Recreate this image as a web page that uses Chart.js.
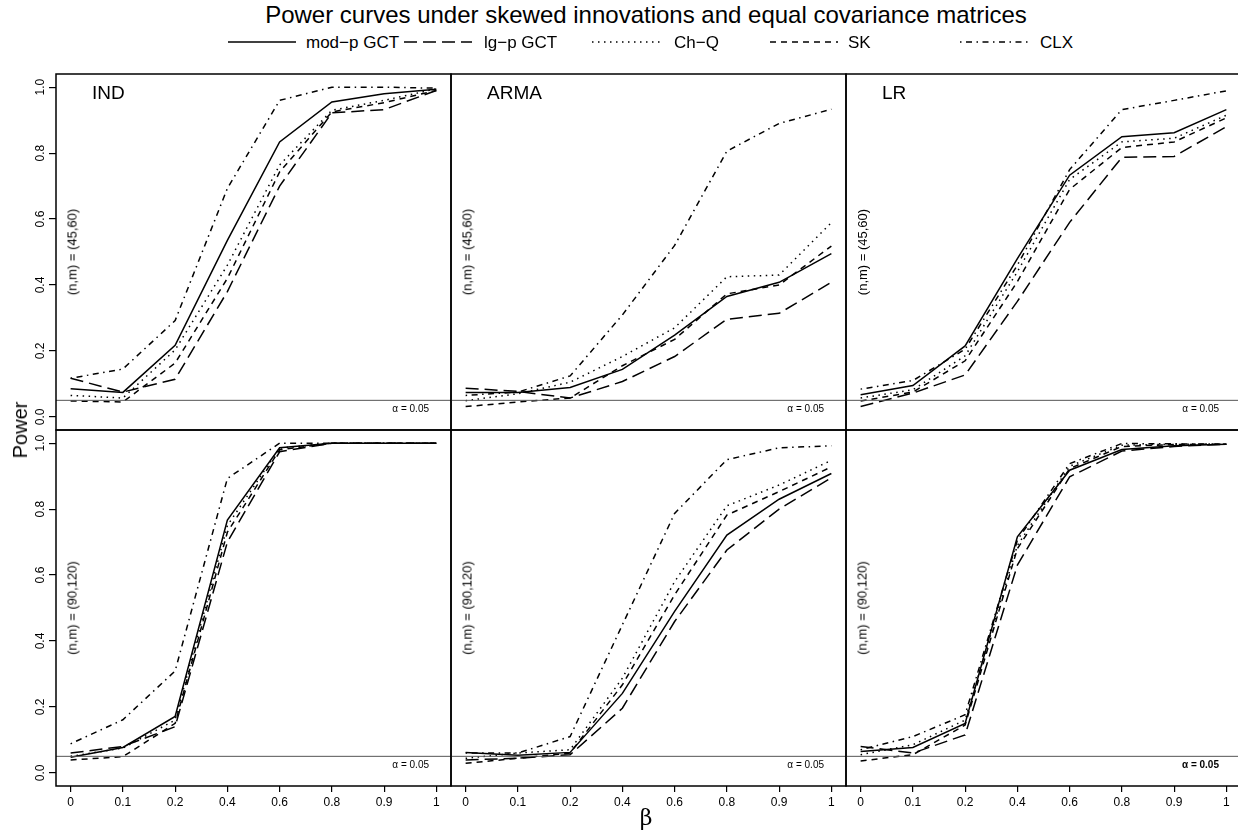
<!DOCTYPE html>
<html>
<head>
<meta charset="utf-8">
<title>Power curves</title>
<script src="https://cdn.jsdelivr.net/npm/chart.js@4.4.1/dist/chart.umd.min.js"></script>
<style>
html, body { margin: 0; padding: 0; background: #fff; overflow: hidden; }
#page { position: relative; width: 1238px; height: 832px; overflow: hidden;
        font-family: "Liberation Sans", Arial, Helvetica, sans-serif; color: #000; }
#page canvas { position: absolute; }
.txt { position: absolute; white-space: nowrap; line-height: 1; }
.mid { transform: translate(-50%, -50%); }
.vmid { transform: translate(0, -50%); }
.rmid { transform: translate(-100%, -50%); }
.rot { transform: translate(-50%, -50%) rotate(-90deg); }
</style>
</head>
<body>
<div id="page"></div>
<script>
// x categories and y ticks
const betaLabels = ['0', '0.1', '0.2', '0.4', '0.6', '0.8', '0.9', '1'];
const powerTicks = [0, 0.2, 0.4, 0.6, 0.8, 1];
const seriesNames = ['mod−p GCT', 'lg−p GCT', 'Ch−Q', 'SK', 'CLX'];
const modelNames = ['IND', 'ARMA', 'LR'];
const sampleSizes = ['(45,60)', '(90,120)'];
const alphaLevel = 0.05;

// (n,m) = (45,60)
const indSmallModp = [0.085, 0.074, 0.217, 0.535, 0.834, 0.955, 0.980, 0.994];
const indSmallLgp  = [0.117, 0.075, 0.114, 0.380, 0.700, 0.922, 0.932, 0.990];
const indSmallChq  = [0.065, 0.057, 0.203, 0.460, 0.764, 0.930, 0.960, 0.995];
const indSmallSk   = [0.048, 0.045, 0.163, 0.420, 0.743, 0.925, 0.953, 0.990];
const indSmallClx  = [0.117, 0.145, 0.292, 0.693, 0.960, 1.000, 1.000, 0.997];

const armaSmallModp = [0.074, 0.074, 0.089, 0.144, 0.248, 0.365, 0.408, 0.495];
const armaSmallLgp  = [0.087, 0.077, 0.057, 0.107, 0.183, 0.296, 0.314, 0.408];
const armaSmallChq  = [0.049, 0.070, 0.105, 0.183, 0.270, 0.425, 0.430, 0.589];
const armaSmallSk   = [0.031, 0.045, 0.057, 0.155, 0.235, 0.373, 0.400, 0.518];
const armaSmallClx  = [0.065, 0.075, 0.124, 0.309, 0.520, 0.806, 0.890, 0.933];

const lrSmallModp = [0.067, 0.095, 0.215, 0.480, 0.733, 0.850, 0.862, 0.932];
const lrSmallLgp  = [0.031, 0.072, 0.127, 0.350, 0.590, 0.787, 0.790, 0.880];
const lrSmallChq  = [0.057, 0.082, 0.185, 0.440, 0.720, 0.834, 0.845, 0.915];
const lrSmallSk   = [0.048, 0.075, 0.170, 0.410, 0.690, 0.817, 0.834, 0.907];
const lrSmallClx  = [0.084, 0.110, 0.205, 0.460, 0.750, 0.932, 0.960, 0.989];

// (n,m) = (90,120)
const indLargeModp = [0.047, 0.077, 0.171, 0.767, 0.986, 1.000, 1.000, 1.000];
const indLargeLgp  = [0.060, 0.080, 0.140, 0.700, 0.974, 1.000, 1.000, 1.000];
const indLargeChq  = [0.050, 0.075, 0.160, 0.750, 0.985, 1.000, 1.000, 1.000];
const indLargeSk   = [0.039, 0.049, 0.150, 0.730, 0.980, 1.000, 1.000, 1.000];
const indLargeClx  = [0.088, 0.161, 0.309, 0.893, 1.000, 1.000, 1.000, 1.000];

const armaLargeModp = [0.062, 0.053, 0.062, 0.241, 0.490, 0.721, 0.830, 0.908];
const armaLargeLgp  = [0.039, 0.044, 0.055, 0.196, 0.459, 0.676, 0.800, 0.895];
const armaLargeChq  = [0.044, 0.060, 0.070, 0.287, 0.580, 0.810, 0.873, 0.948];
const armaLargeSk   = [0.029, 0.044, 0.060, 0.267, 0.540, 0.782, 0.853, 0.928];
const armaLargeClx  = [0.060, 0.060, 0.110, 0.449, 0.787, 0.950, 0.986, 0.992];

const lrLargeModp = [0.065, 0.077, 0.150, 0.716, 0.918, 0.981, 0.992, 0.997];
const lrLargeLgp  = [0.080, 0.060, 0.115, 0.630, 0.898, 0.976, 0.990, 0.997];
const lrLargeChq  = [0.055, 0.085, 0.160, 0.690, 0.930, 0.994, 0.997, 0.997];
const lrLargeSk   = [0.036, 0.055, 0.145, 0.680, 0.923, 0.990, 0.996, 0.997];
const lrLargeClx  = [0.070, 0.110, 0.176, 0.706, 0.938, 0.999, 0.998, 0.997];

const panels = [
    [
        [indSmallModp, indSmallLgp, indSmallChq, indSmallSk, indSmallClx],
        [armaSmallModp, armaSmallLgp, armaSmallChq, armaSmallSk, armaSmallClx],
        [lrSmallModp, lrSmallLgp, lrSmallChq, lrSmallSk, lrSmallClx]
    ],
    [
        [indLargeModp, indLargeLgp, indLargeChq, indLargeSk, indLargeClx],
        [armaLargeModp, armaLargeLgp, armaLargeChq, armaLargeSk, armaLargeClx],
        [lrLargeModp, lrLargeLgp, lrLargeChq, lrLargeSk, lrLargeClx]
    ]
];

// styles / layout
const lineDashes = [[], [13, 6], [1.5, 4.5], [6, 5], [1.5, 4.5, 6, 4.5]];
const FONT = '"Liberation Sans", Arial, Helvetica, sans-serif';
const colX = [56, 451, 846, 1241];
const rowY = [74, 430, 786];
const PAD = 4;
const page = document.getElementById('page');

const panelDecor = {
    id: 'panelDecor',
    afterDatasetsDraw(chart) {
        const { ctx, chartArea: a } = chart;
        const y = chart.scales.y;
        ctx.save();
        // alpha reference line
        const ya = y.getPixelForValue(alphaLevel);
        ctx.strokeStyle = '#555';
        ctx.lineWidth = 1;
        ctx.beginPath();
        ctx.moveTo(a.left, ya);
        ctx.lineTo(a.right, ya);
        ctx.stroke();
        // box
        ctx.strokeStyle = '#000';
        ctx.lineWidth = 1.5;
        ctx.strokeRect(a.left, a.top, a.right - a.left, a.bottom - a.top);
        // rotated y tick labels (R style)
        if (y.options.display) {
            ctx.fillStyle = '#000';
            ctx.font = '12px ' + FONT;
            ctx.textAlign = 'center';
            ctx.textBaseline = 'middle';
            y.ticks.forEach(t => {
                ctx.save();
                ctx.translate(a.left - 15, y.getPixelForValue(t.value));
                ctx.rotate(-Math.PI / 2);
                ctx.fillText(t.value.toFixed(1), 0, 0);
                ctx.restore();
            });
        }
        ctx.restore();
    }
};

function addText(text, x, y, cls, css) {
    const d = document.createElement('div');
    d.className = 'txt ' + cls;
    d.textContent = text;
    d.style.left = x + 'px';
    d.style.top = y + 'px';
    Object.assign(d.style, css || {});
    page.appendChild(d);
    return d;
}

function makePanel(row, col, series) {
    const showY = col === 0;
    const showX = row === 1;
    const left = showY ? 0 : colX[col] - PAD;
    const top = rowY[row] - PAD;
    const right = colX[col + 1] + PAD;
    const bottom = showX ? 832 : rowY[row + 1] + PAD;

    const canvas = document.createElement('canvas');
    canvas.width = right - left;
    canvas.height = bottom - top;
    canvas.style.left = left + 'px';
    canvas.style.top = top + 'px';
    page.appendChild(canvas);

    return new Chart(canvas, {
        type: 'line',
        data: {
            datasets: series.map((vals, i) => ({
                label: seriesNames[i],
                data: vals.map((v, k) => ({ x: k, y: v })),
                borderColor: '#000',
                borderWidth: 1.5,
                borderDash: lineDashes[i],
                pointRadius: 0,
                tension: 0,
                fill: false
            }))
        },
        options: {
            responsive: false,
            animation: false,
            events: [],
            layout: {
                padding: { top: PAD, right: PAD, left: showY ? 0 : PAD, bottom: showX ? 0 : PAD }
            },
            plugins: {
                legend: { display: false },
                tooltip: { enabled: false }
            },
            scales: {
                x: {
                    type: 'linear',
                    min: -0.28,
                    max: 7.28,
                    display: showX,
                    afterBuildTicks: s => { s.ticks = betaLabels.map((_, k) => ({ value: k })); },
                    afterFit: s => { s.height = showX ? 832 - rowY[2] : 0; },
                    ticks: {
                        callback: v => betaLabels[v],
                        autoSkip: false,
                        maxRotation: 0,
                        minRotation: 0,
                        padding: 3,
                        color: '#000',
                        font: { family: FONT, size: 12 }
                    },
                    grid: { drawOnChartArea: false, drawTicks: true, tickLength: 6, color: '#000', lineWidth: 1.2 },
                    border: { display: false }
                },
                y: {
                    type: 'linear',
                    min: -0.04,
                    max: 1.04,
                    display: showY,
                    afterBuildTicks: s => { s.ticks = powerTicks.map(v => ({ value: v })); },
                    afterFit: s => { s.width = showY ? colX[0] : 0; },
                    ticks: { display: false },
                    grid: { drawOnChartArea: false, drawTicks: true, tickLength: 7, color: '#000', lineWidth: 1.2 },
                    border: { display: false }
                }
            }
        },
        plugins: [panelDecor]
    });
}

panels.forEach((rowPanels, r) => {
    rowPanels.forEach((series, c) => {
        makePanel(r, c, series);
        const pLeft = colX[c];
        const pRight = colX[c + 1];
        const midY = (rowY[r] + rowY[r + 1]) / 2;
        if (r === 0) {
            addText(modelNames[c], pLeft + 36, 83, '', { fontSize: '19px' });
        }
        addText('(n,m) = ' + sampleSizes[r], pLeft + 16, midY, 'rot', { fontSize: '13px' });
        addText('α = ' + alphaLevel, pRight - 22, rowY[r + 1] - 21, 'rmid',
            { fontSize: '10px', fontWeight: (r === 1 && c === 2) ? 'bold' : 'normal' });
    });
});

// title, axis titles
addText('Power curves under skewed innovations and equal covariance matrices', 646, 15, 'mid', { fontSize: '24px' });
addText('Power', 20, 430, 'rot', { fontSize: '20px' });
addText('β', 646, 818, 'mid', { fontSize: '22px', fontFamily: '"DejaVu Serif", "Liberation Serif", serif' });

// legend
const legendLineX = [228, 404, 592, 770, 960];
const legendTextX = [306, 484, 674, 848, 1040];
const svgNS = 'http://www.w3.org/2000/svg';
seriesNames.forEach((name, i) => {
    const svg = document.createElementNS(svgNS, 'svg');
    svg.setAttribute('width', '70');
    svg.setAttribute('height', '10');
    svg.style.position = 'absolute';
    svg.style.left = legendLineX[i] + 'px';
    svg.style.top = '37px';
    const ln = document.createElementNS(svgNS, 'line');
    ln.setAttribute('x1', '0');
    ln.setAttribute('x2', '68');
    ln.setAttribute('y1', '5');
    ln.setAttribute('y2', '5');
    ln.setAttribute('stroke', '#000');
    ln.setAttribute('stroke-width', '1.5');
    if (lineDashes[i].length) ln.setAttribute('stroke-dasharray', lineDashes[i].join(' '));
    svg.appendChild(ln);
    page.appendChild(svg);
    addText(name, legendTextX[i], 42, 'vmid', { fontSize: '17px' });
});
</script>
</body>
</html>
